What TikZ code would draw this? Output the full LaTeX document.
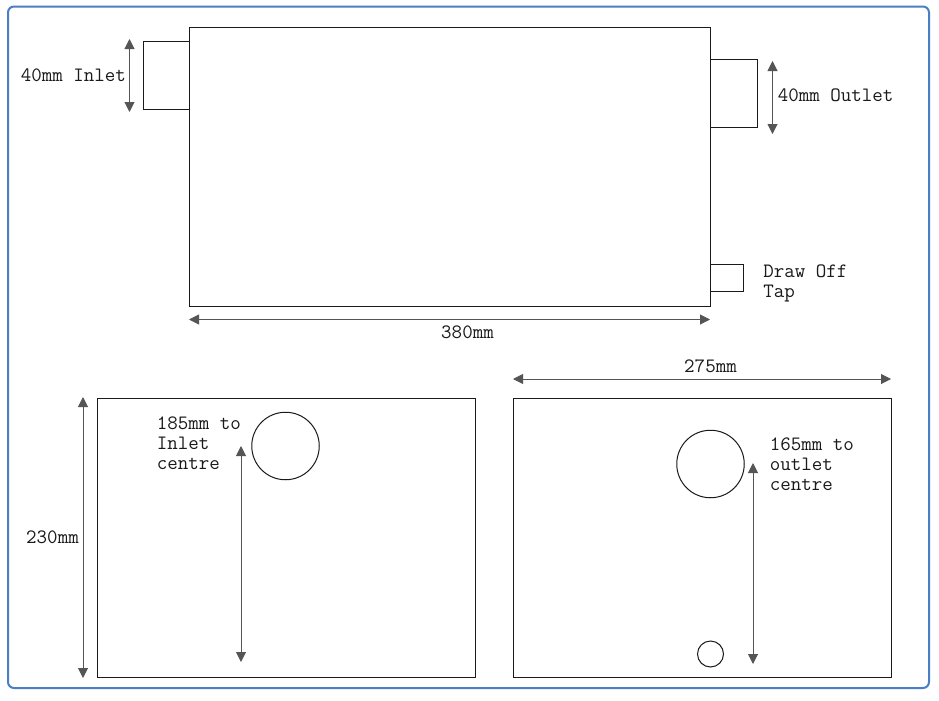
\documentclass[tikz,border=0pt]{standalone}
\usepackage{fontspec}
\usetikzlibrary{arrows.meta}
\definecolor{frameblue}{HTML}{4A7FC4}
\definecolor{ink}{HTML}{1A1A1A}
\definecolor{arrowgrey}{HTML}{555555}
\tikzset{
  x=0.75pt,y=-0.75pt,
  part/.style={draw=ink,line width=0.75pt,fill=white,inner sep=0pt,outer sep=0pt},
  hole/.style={draw=ink,line width=0.75pt,fill=white,circle,inner sep=0pt,outer sep=0pt},
  dim/.style={draw=arrowgrey,line width=0.75pt,{Triangle[width=7.5pt,length=7.5pt]}-{Triangle[width=7.5pt,length=7.5pt]}},
  lbl/.style={font=\ttfamily\fontsize{15.3}{15}\selectfont,text=ink,inner sep=0pt,align=left},
}
\newcommand{\boxat}[5]{\node[part,anchor=north west,minimum width=#4*0.75pt,minimum height=#5*0.75pt] (#1) at (#2,#3) {};}
\begin{document}
\begin{tikzpicture}
\useasboundingbox (0,0) rectangle (939,700);
\fill[white] (0,0) rectangle (939,700);
\draw[frameblue,line width=1.5pt,rounded corners=4.5pt] (8,6.5) rectangle (929,688);
% top view
\boxat{inlet}{143.5}{41.5}{46.5}{68}
\boxat{outlet}{710.5}{59.5}{46.5}{68}
\boxat{tap}{710.5}{264}{33}{27.5}
\boxat{body}{189.8}{27.5}{521}{279}
\coordinate (inA) at (129.5,39); \coordinate (inB) at (129.5,112);
\draw[dim] (inA) -- (inB);
\coordinate (outA) at (772.5,61); \coordinate (outB) at (772.5,134);
\draw[dim] (outA) -- (outB);
\coordinate (wA) at (189,319.5); \coordinate (wB) at (710,319.5);
\draw[dim] (wA) -- (wB);
\node[lbl,anchor=west] (tInlet) at (20.5,75.5) {40mm Inlet};
\node[lbl,anchor=west] (tOutlet) at (777.5,95.5) {40mm Outlet};
\node[lbl,anchor=north west] (tTap) at (763,265) {Draw Off\\Tap};
\node[lbl] (t380) at (467.5,332.5) {380mm};
% left end
\boxat{left}{97}{398.5}{378.5}{278.5}
\node[hole,minimum size=67.5*0.75pt] (cIn) at (285.5,446) {};
\coordinate (hA) at (83,397); \coordinate (hB) at (83,678);
\draw[dim] (hA) -- (hB);
\coordinate (iA) at (241,446); \coordinate (iB) at (241,662);
\draw[dim] (iA) -- (iB);
\node[lbl] (t230) at (52.5,537.5) {230mm};
\node[lbl,anchor=north west] (tIn) at (156.5,417) {185mm to\\Inlet\\centre};
% right end
\boxat{right}{513.8}{398.5}{378}{278.5}
\node[hole,minimum size=67.5*0.75pt] (cOut) at (710.5,464) {};
\node[hole,minimum size=26*0.75pt] (cTap) at (710.5,654) {};
\coordinate (dA) at (513,379); \coordinate (dB) at (891,379);
\draw[dim] (dA) -- (dB);
\coordinate (oA) at (753,463); \coordinate (oB) at (753,664);
\draw[dim] (oA) -- (oB);
\node[lbl] (t275) at (710.5,366.5) {275mm};
\node[lbl,anchor=north west] (tOut) at (769.5,438) {165mm to\\outlet\\centre};
\end{tikzpicture}
\end{document}
